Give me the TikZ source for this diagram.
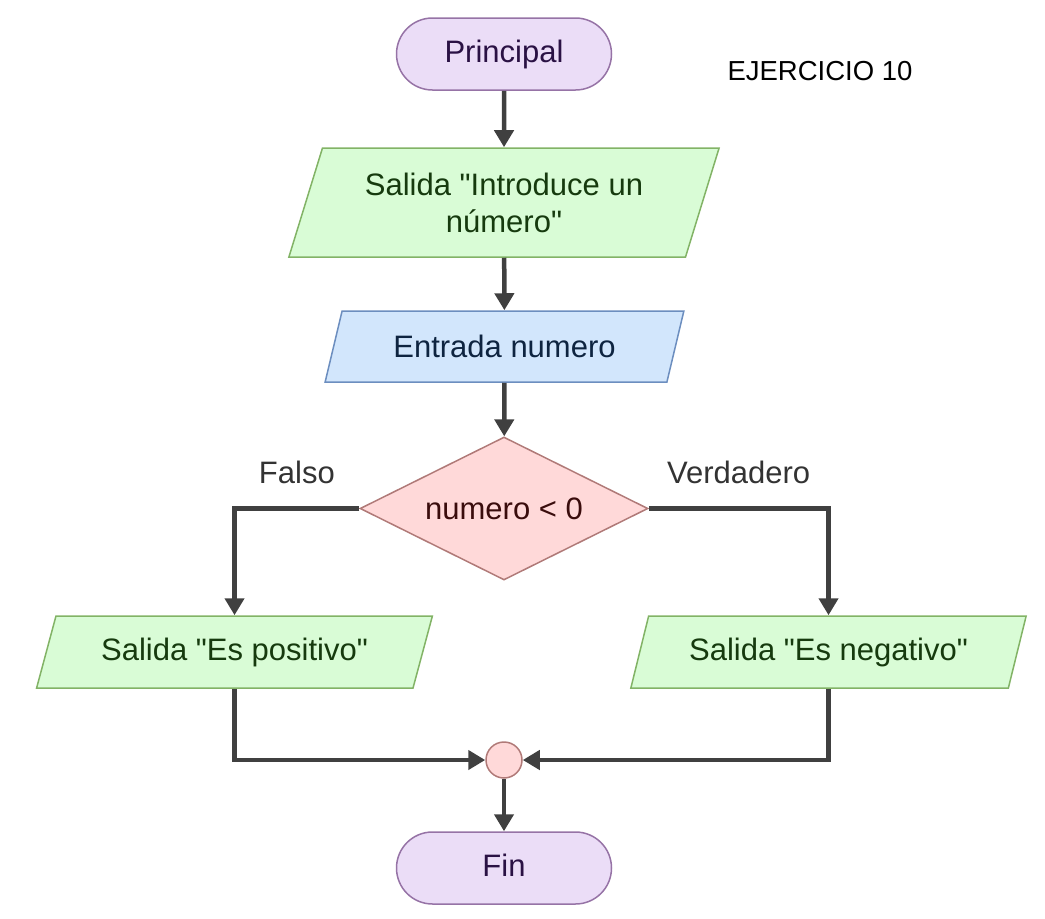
\documentclass[tikz,border=0pt]{standalone}
\usepackage{fontspec}
\setmainfont{Liberation Sans}[Ligatures=TeXOff]
\usetikzlibrary{shapes.geometric,arrows.meta}
\definecolor{lilafondo}{HTML}{EBDDF7}
\definecolor{lilaborde}{HTML}{9673A6}
\definecolor{lilatexto}{HTML}{2A1144}
\definecolor{verdefondo}{HTML}{D9FCD6}
\definecolor{verdeborde}{HTML}{82B366}
\definecolor{verdetexto}{HTML}{163A0E}
\definecolor{azulfondo}{HTML}{D2E6FC}
\definecolor{azulborde}{HTML}{6C8EBF}
\definecolor{azultexto}{HTML}{0E2440}
\definecolor{rojofondo}{HTML}{FFD9D9}
\definecolor{rojoborde}{HTML}{B07A78}
\definecolor{rojotexto}{HTML}{3A0C0C}
\definecolor{flecha}{HTML}{404040}
\begin{document}
\begin{tikzpicture}[x=1pt,y=-1pt,font=\fontsize{31}{37}\selectfont,
	terminal/.style={rectangle,rounded corners=36pt,draw=lilaborde,fill=lilafondo,text=lilatexto,line width=1.5pt,minimum width=215pt,minimum height=72pt,text height=22pt,text depth=6pt},
	salida/.style={trapezium,trapezium stretches=true,draw=verdeborde,fill=verdefondo,text=verdetexto,line width=1.5pt,inner sep=0pt,align=center},
	entrada/.style={trapezium,trapezium stretches=true,draw=azulborde,fill=azulfondo,text=azultexto,line width=1.5pt,inner sep=0pt},
	decision/.style={diamond,aspect=2,draw=rojoborde,fill=rojofondo,text=rojotexto,line width=1.5pt,inner sep=0pt,minimum width=288pt,minimum height=143pt},
	union/.style={circle,draw=rojoborde,fill=rojofondo,line width=1.5pt,minimum size=36pt,inner sep=0pt},
	flujo/.style={draw=flecha,line width=4.5pt,-{Triangle[length=17pt,width=19pt]}},
	etiqueta/.style={text=black!80,above=19pt}]
	
	\useasboundingbox (0,0) rectangle (1045,919);
	
	\node [terminal] (principal) at (504,54) {Principal};
	\node [text=black,font=\fontsize{27.5}{32}\selectfont] (ejercicio) at (820,71) {EJERCICIO 10};
	\node [salida,trapezium left angle=66.7,trapezium right angle=113.3,minimum width=432pt,minimum height=109pt] (introduce) at (504,202.5) {Salida "Introduce un\\número"};
	\node [entrada,trapezium left angle=63,trapezium right angle=117,minimum width=360pt,minimum height=71pt] (numero) at (504.5,346.5) {Entrada numero};
	\node [decision] (condicion) at (504,508.5) {numero < 0};
	\node [salida,trapezium left angle=63.4,trapezium right angle=116.6,minimum width=397pt,minimum height=72pt] (positivo) at (234.5,652) {Salida "Es positivo"};
	\node [salida,trapezium left angle=64.5,trapezium right angle=115.5,minimum width=397pt,minimum height=72pt] (negativo) at (828.5,652) {Salida "Es negativo"};
	\node [union] (junta) at (504,760) {};
	\node [terminal] (fin) at (504,868) {Fin};
	
	\draw [flujo] (principal) -- (introduce);
	\draw [flujo] (introduce) -- (numero);
	\draw [flujo] (numero) -- (condicion);
	\draw [flujo] (condicion.west) -| (positivo.north) node [near start,etiqueta]{Falso};
	\draw [flujo] (condicion.east) -| (negativo.north) node [near start,etiqueta]{Verdadero};
	\draw [flujo] (positivo.south) |- (junta.west);
	\draw [flujo] (negativo.south) |- (junta.east);
	\draw [flujo] (junta) -- (fin);
\end{tikzpicture}
\end{document}
